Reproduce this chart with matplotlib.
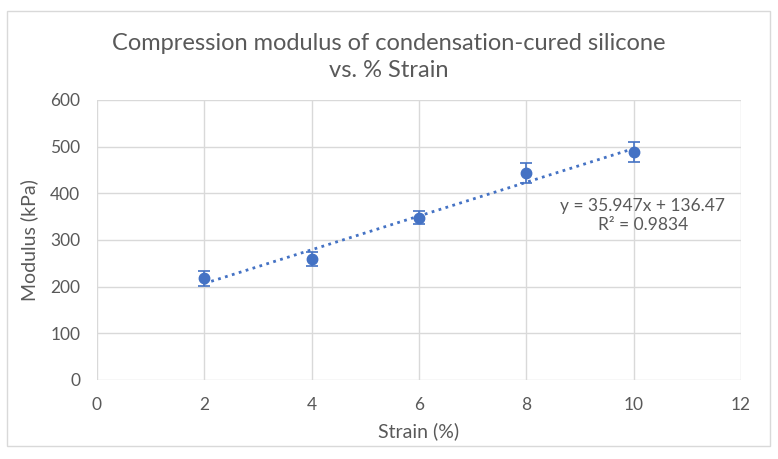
"""Modulo de compresion de silicona curada por condensacion frente a % de deformacion."""
import matplotlib
import numpy as np

matplotlib.use("Agg")
import matplotlib.pyplot as plt  # noqa: E402
from matplotlib.patches import Rectangle  # noqa: E402

# --- Datos ---
strain_pct = [2, 4, 6, 8, 10]
modulus_kpa = [218, 260, 348, 443, 488]
modulus_err = [16, 15, 14, 21, 21]
equation_text = "y = 35.947x + 136.47\nR\u00b2 = 0.9834"

BLUE = "#4472c4"
TEXT = "#595959"
GRID = "#d9d9d9"

plt.rcParams.update(
    {
        "font.family": ["Lato", "DejaVu Sans"],
        "text.color": TEXT,
        "xtick.color": TEXT,
        "ytick.color": TEXT,
    }
)

fig = plt.figure(figsize=(7.78, 4.59), dpi=100)
fig.patches.append(
    Rectangle((7 / 778, 1 - 446 / 459), 763 / 778, 435 / 459,
              transform=fig.transFigure, fill=False, edgecolor=GRID, linewidth=1)
)
ax = fig.add_axes([97 / 778, 1 - 380 / 459, 644 / 778, 280 / 459])

ax.errorbar(strain_pct, modulus_kpa, yerr=modulus_err, fmt="o", color=BLUE,
            markersize=7.5, elinewidth=1.2, capsize=4.5, capthick=1.2, zorder=3)

# Linea de tendencia lineal
coef = np.polyfit(strain_pct, modulus_kpa, 1)
xs = np.array([min(strain_pct), max(strain_pct)])
ax.plot(xs, np.polyval(coef, xs), linestyle=(0, (1, 1.6)), color=BLUE,
        linewidth=2, zorder=2)

ax.text(10.17, 352, equation_text, ha="center", va="center", fontsize=12.5,
        color=TEXT, linespacing=1.25)

ax.set_xlim(0, 12)
ax.set_ylim(0, 600)
ax.set_xticks(range(0, 13, 2))
ax.set_yticks(range(0, 601, 100))
ax.grid(True, color=GRID, linewidth=1)
ax.set_axisbelow(True)
for lado in ax.spines.values():
    lado.set_visible(False)
ax.tick_params(length=0, labelsize=12.5, pad=12)

ax.set_xlabel("Strain (%)", fontsize=14, color=TEXT, labelpad=7)
ax.set_ylabel("Modulus (kPa)", fontsize=14, color=TEXT, labelpad=9)
fig.text(389 / 778, 1 - 57 / 459,
         "Compression modulus of condensation-cured silicone\nvs. % Strain",
         ha="center", va="center", fontsize=17, color=TEXT, linespacing=1.4)

fig.savefig("out.png", dpi=100)
